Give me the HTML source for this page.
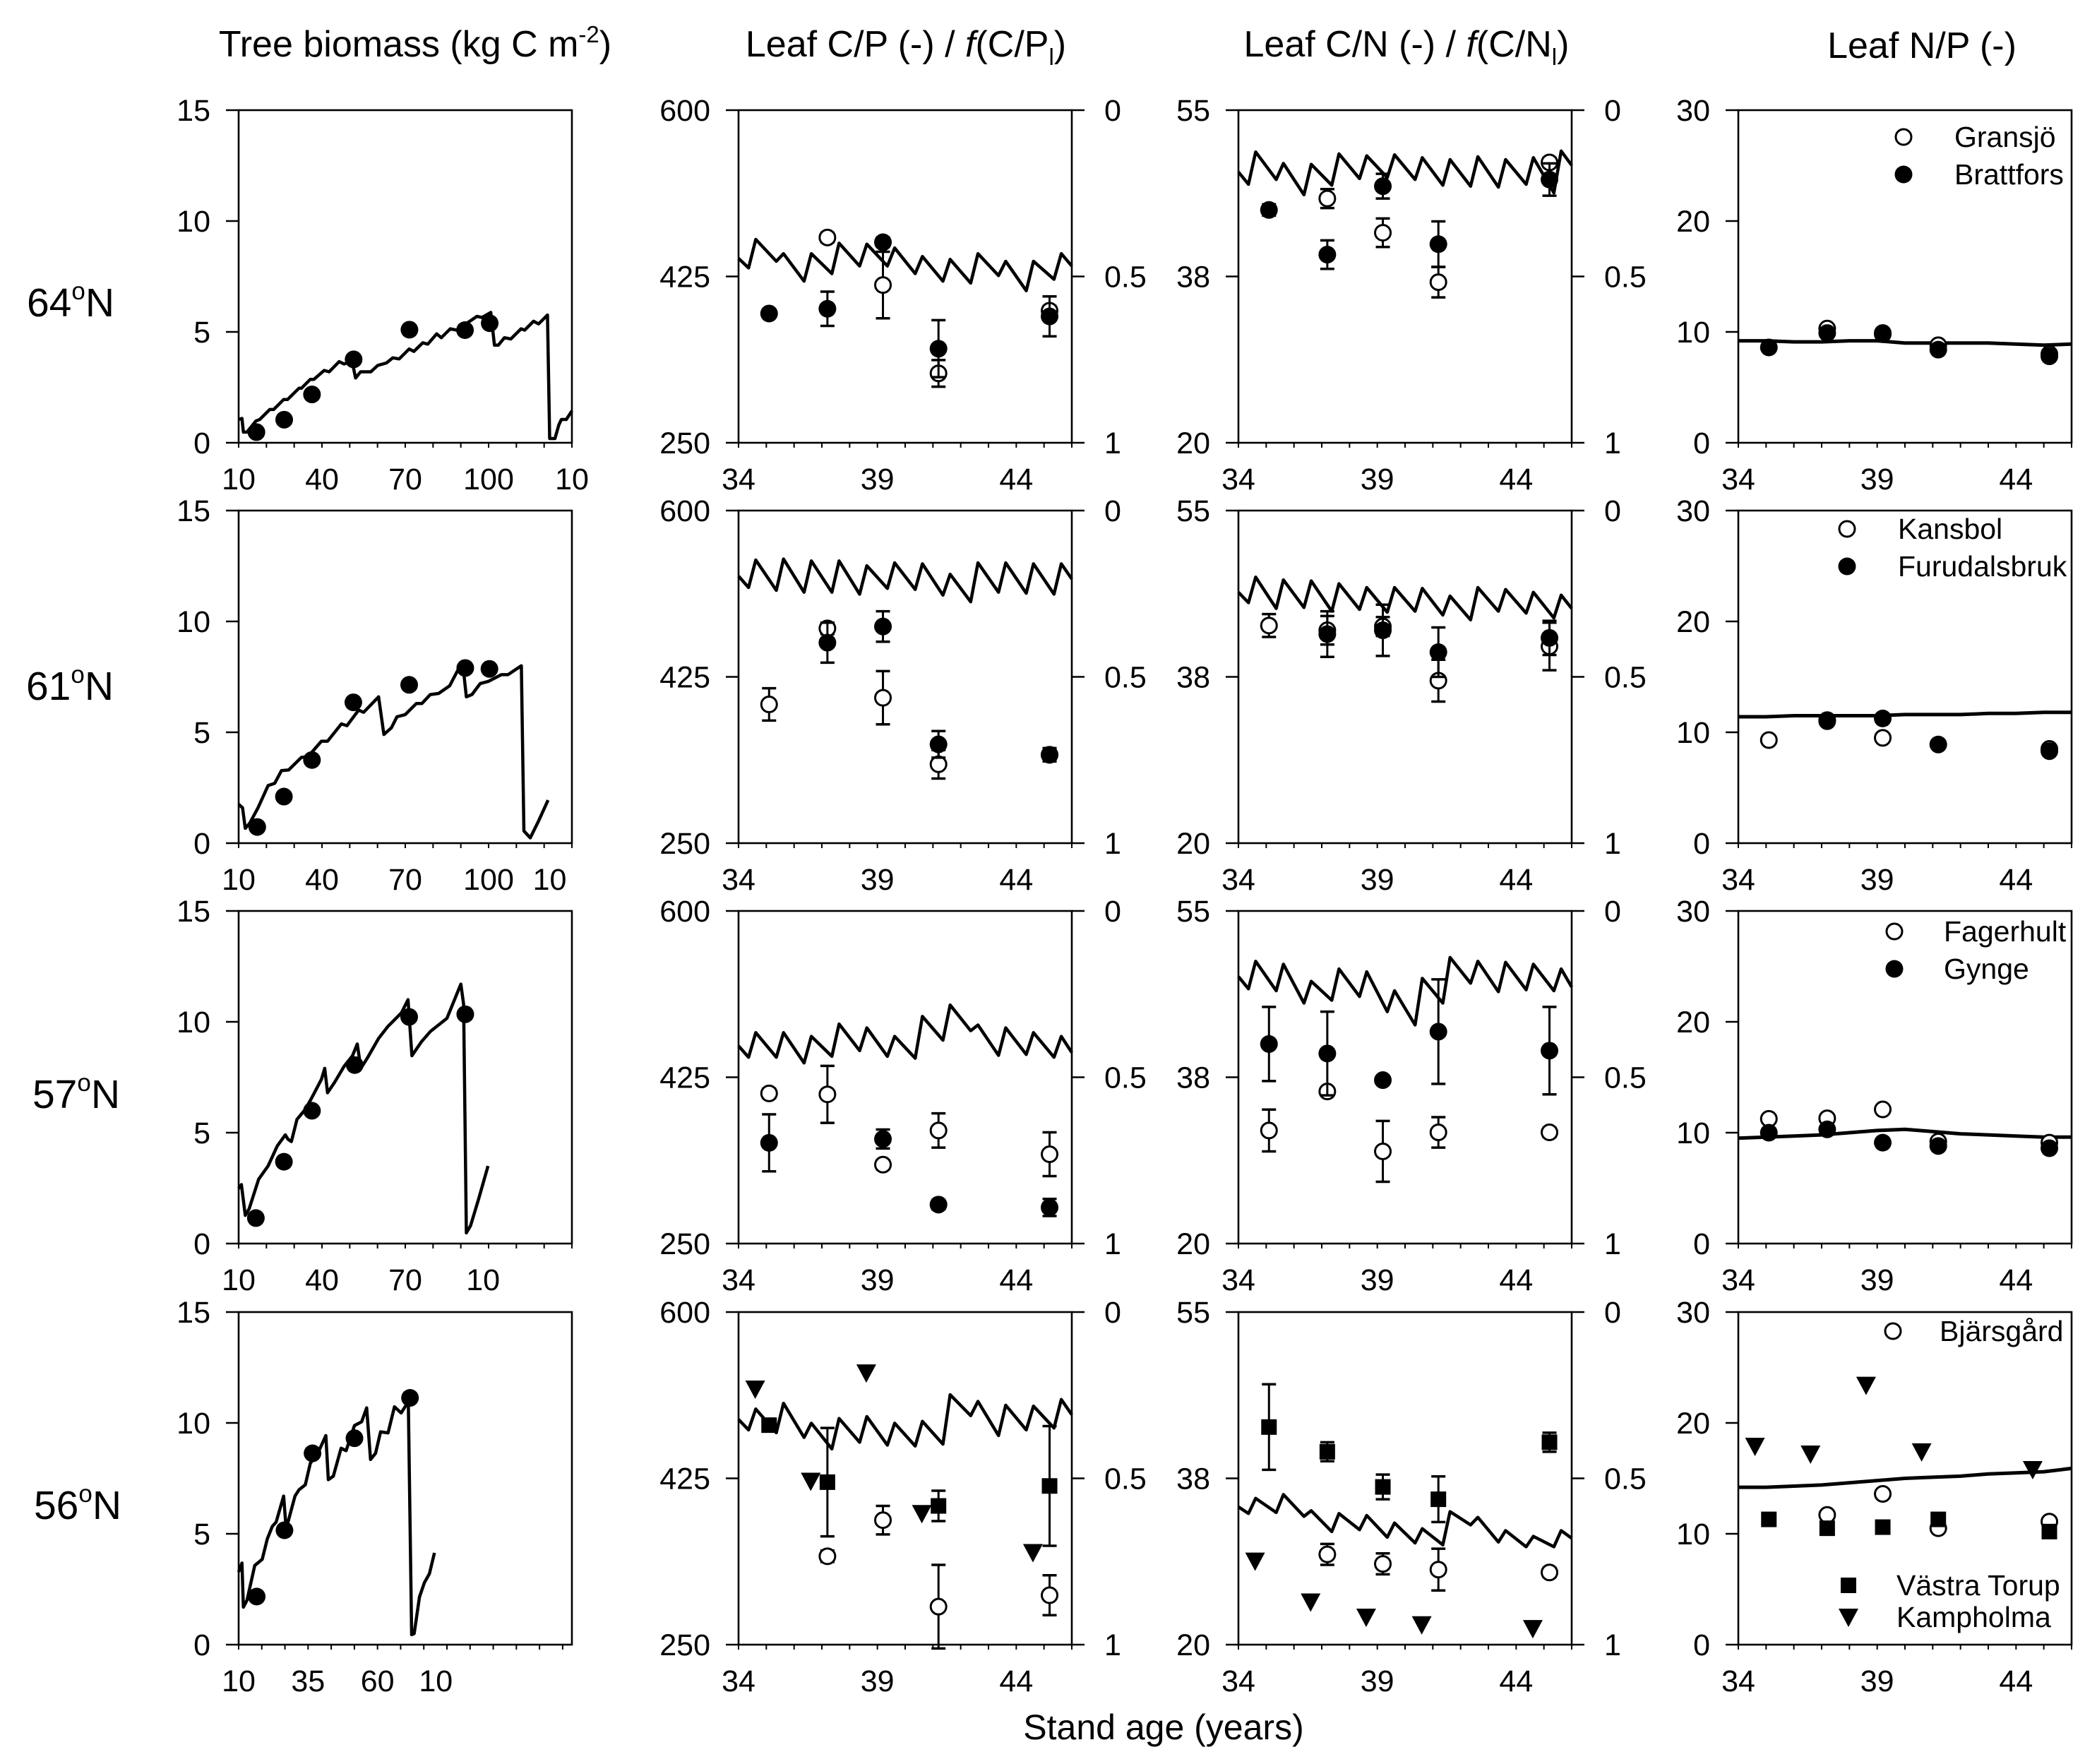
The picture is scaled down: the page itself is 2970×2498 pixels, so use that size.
<!DOCTYPE html>
<html><head><meta charset="utf-8">
<style>
html,body{margin:0;padding:0;background:#fff;}
svg{display:block;font-family:"Liberation Sans",Arial,sans-serif;}
</style></head>
<body>
<svg id="fig" xmlns="http://www.w3.org/2000/svg" width="2970" height="2498" viewBox="0 0 2970 2498">
<rect x="0" y="0" width="2970" height="2498" fill="#fff"/>
<g font-size="52" text-anchor="middle" fill="#000">
<text x="588" y="80">Tree biomass (kg C m<tspan font-size="33" dy="-20">-2</tspan><tspan dy="20">)</tspan></text>
<text x="1283" y="80">Leaf C/P (-) / <tspan font-style="italic">f</tspan>(C/P<tspan font-size="33" dy="12">l</tspan><tspan dy="-12">)</tspan></text>
<text x="1992" y="80">Leaf C/N (-) / <tspan font-style="italic">f</tspan>(C/N<tspan font-size="33" dy="12">l</tspan><tspan dy="-12">)</tspan></text>
<text x="2722" y="82">Leaf N/P (-)</text>
</g>
<g font-size="57" text-anchor="middle" fill="#000">
<text x="100" y="448">64<tspan font-size="35" dy="-24">o</tspan><tspan dy="24">N</tspan></text>
<text x="99" y="991">61<tspan font-size="35" dy="-24">o</tspan><tspan dy="24">N</tspan></text>
<text x="108" y="1569">57<tspan font-size="35" dy="-24">o</tspan><tspan dy="24">N</tspan></text>
<text x="110" y="2151">56<tspan font-size="35" dy="-24">o</tspan><tspan dy="24">N</tspan></text>
</g>
<text x="1648" y="2463" font-size="50" text-anchor="middle">Stand age (years)</text>
<g id="panels"></g>
</svg>
<script>
// ---------- shared categories ----------
const sampleYears = [35.1, 37.2, 39.2, 41.2, 45.2];
const kampYears = [34.6, 36.6, 38.6, 40.6, 44.6];
const modelYears = [34,35,36,37,38,39,40,41,42,43,44,45];
const npYears = [34,35,36,37,38,39,40,41,42,43,44,45,46];

// ---------- Tree biomass (model [age index, kg C m-2]) ----------
const bioR1Line = [[0,1.05],[1.2,1.1],[1.7,0.48],[3,0.48],[6.2,0.98],[7.6,1.05],[11.2,1.5],[12.6,1.5],[16.2,1.95],[17.6,1.95],[21.7,2.46],[22.6,2.46],[25.8,2.86],[27.1,2.86],[30.8,3.26],[32.6,3.2],[36.2,3.66],[38,3.55],[40.8,3.71],[42.1,2.92],[43.9,3.2],[47.6,3.2],[50.1,3.49],[53.2,3.6],[55.5,3.83],[57.8,3.78],[61.4,4.23],[63.1,4.12],[66.3,4.51],[68.1,4.45],[71.3,4.91],[73,4.74],[76.2,5.14],[78.5,5.08],[85.8,5.7],[87.6,5.65],[90.8,5.88],[92.1,4.4],[93.5,4.4],[95.7,4.74],[98,4.68],[101.7,5.14],[103,5.08],[106.2,5.48],[108,5.36],[111.2,5.76],[112,0.19],[113.9,0.19],[115.3,0.81],[116.2,1.05],[118,1.05],[120,1.44]];
const bioR1DotAge = [6.4,16.4,26.4,41.4,61.5,81.5,90.4];
const bioR1DotVal = [0.48,1.04,2.18,3.76,5.1,5.08,5.39];
const bioR2Line = [[0,1.75],[1.4,1.6],[2.4,0.67],[4,0.9],[7,1.6],[10.6,2.6],[13,2.7],[15.4,3.27],[18,3.3],[22.6,3.87],[25,3.9],[29.8,4.6],[32,4.6],[37,5.38],[39,5.3],[43.2,6.0],[45,5.9],[50.4,6.6],[52.3,4.9],[55,5.2],[57,5.7],[60,5.8],[64,6.3],[66,6.3],[69,6.7],[72,6.75],[76,7.1],[80.6,8.2],[82,6.6],[84,6.7],[87,7.2],[90,7.3],[94.6,7.6],[97,7.6],[101.8,8.0],[102.7,0.55],[105,0.24],[108,1.0],[111.4,1.94]];
const bioR2DotAge = [6.7,16.3,26.4,41.3,61.4,81.6,90.3];
const bioR2DotVal = [0.73,2.1,3.75,6.35,7.14,7.9,7.86];
const bioR3Line = [[0,2.48],[1,2.66],[2.4,1.27],[3.8,1.57],[7.2,2.9],[10.6,3.5],[13.9,4.4],[16.8,4.9],[17.8,4.7],[19,4.6],[21,5.6],[24,6.05],[26,6.5],[29.8,7.4],[31,7.9],[32,6.8],[34.5,7.26],[38,8.0],[41,8.47],[42.7,9.0],[44,7.9],[46.5,8.4],[50.4,9.25],[53.8,9.8],[58.6,10.4],[61,11.0],[62.4,8.47],[65.8,9.1],[69,9.56],[75,10.16],[80,11.7],[81,10.8],[82,0.48],[83.5,0.8],[86.4,2.0],[89.8,3.5]];
const bioR3DotAge = [6.2,16.3,26.4,41.8,61.4,81.6];
const bioR3DotVal = [1.15,3.69,5.99,8.05,10.22,10.34];
const bioR4Line = [[0,3.28],[1.2,3.68],[1.7,1.69],[3,2.0],[5.8,3.57],[8.5,3.85],[10.3,4.76],[12.1,5.33],[13.5,5.53],[16.2,6.7],[17.1,5.22],[20.3,6.7],[21.7,6.98],[24,7.21],[25.8,8.18],[28.5,8.63],[31.4,9.43],[32.3,7.44],[34.1,7.6],[36.9,8.86],[38.7,8.75],[41.7,9.88],[44.3,10.05],[46.1,10.68],[47.5,8.35],[49.3,8.63],[51.1,9.6],[53.8,9.55],[56.1,10.73],[58.5,10.45],[61.1,10.96],[61.3,9.2],[62.3,0.45],[63.2,0.5],[65.1,2.15],[66.9,2.8],[68.7,3.2],[70.5,4.14]];
const bioR4DotAge = [6.5,16.5,26.6,41.7,61.7];
const bioR4DotVal = [2.17,5.16,8.63,9.31,11.13];
const bioTickPosR1 = [0,10,20,30,40,50,60,70,80,90,100,110,120];
const bioTickPosR4 = [0,8.33,16.67,25,33.33,41.67,50,58.33,66.67,75,83.33,91.67,100,108.33,116.67];
const bioLabelPosR1 = [0,30,60,90,120];
const bioLabelTxtR1 = ['10','40','70','100','10'];
const bioLabelPosR2 = [0,30,60,90,112];
const bioLabelTxtR2 = ['10','40','70','100','10'];
const bioLabelPosR3 = [0,30,60,88];
const bioLabelTxtR3 = ['10','40','70','10'];
const bioLabelPosR4 = [0,25,50,71];
const bioLabelTxtR4 = ['10','35','60','10'];

// ---------- Leaf C/P ----------
const cpR1Start = 444, cpR1End = 436;
const cpR1Trough = [434,441,420,428,436,436,428,420,418,426,410,422];
const cpR1Peak = [464,449,449,460,459,455,446,443,449,441,441,449];
const cpR1Open = [null,466,416,323,389];
const cpR1OpenErr = [0,5,35,14,5];
const cpR1Filled = [386,391,461,349,383];
const cpR1FilledErr = [0,18,5,30,21];

const cpR2Start = 531, cpR2End = 528;
const cpR2Trough = [519,516,514,514,512,518,517,511,504,514,513,512];
const cpR2Peak = [548,549,547,547,542,545,544,533,545,545,544,544];
const cpR2Open = [396,476,403,333,343];
const cpR2OpenErr = [17,6,28,15,5];
const cpR2Filled = [null,461,478,354,343];
const cpR2FilledErr = [0,21,16,14,7];

const cpR3Start = 458, cpR3End = 451;
const cpR3Trough = [446,446,440,447,453,447,445,464,474,448,449,446];
const cpR3Peak = [472,472,468,481,477,468,489,501,480,477,472,468];
const cpR3Open = [408,407,333,369,344];
const cpR3OpenErr = [5,30,5,18,23];
const cpR3Filled = [356,null,360,291,288];
const cpR3FilledErr = [30,0,10,5,9];

const cpR4Start = 487, cpR4End = 492;
const cpR4Trough = [476,473,468,456,463,460,459,461,491,470,476,478];
const cpR4Peak = [498,504,483,488,490,483,485,513,506,502,501,508];
const cpR4Open = [null,343,381,290,302];
const cpR4OpenErr = [0,6,15,44,21];
const cpR4Square = [481,421,null,396,417];
const cpR4SquareErr = [5,57,0,16,63];
const cpR4Tri = [519,422,536,388,347];

// ---------- Leaf C/N ----------
const cnR1Start = 48.5, cnR1End = 49.2;
const cnR1Trough = [47.2,47.7,46.1,47.1,47.8,47.9,47.7,47.1,47.0,46.9,47.2,46.3];
const cnR1Peak = [50.6,49.4,49.3,50.4,50.2,50.3,50.0,49.8,50.1,49.8,50.0,50.7];
const cnR1Open = [null,45.7,42.1,36.9,49.5];
const cnR1OpenErr = [0,1,1.5,1.6,0.5];
const cnR1Filled = [44.5,39.8,47.0,40.9,47.7];
const cnR1FilledErr = [0.6,1.5,1.3,2.4,1.7];

const cnR2Start = 46.4, cnR2End = 44.7;
const cnR2Trough = [45.3,44.7,44.8,44.4,44.6,44.3,44.4,44.0,43.5,44.4,44.2,43.7];
const cnR2Peak = [48.0,47.7,47.6,47.3,46.9,46.9,46.8,46.0,46.9,46.7,46.4,46.1];
const cnR2Open = [42.9,42.4,42.8,37.1,40.7];
const cnR2OpenErr = [1.2,1.5,1,2.2,2.5];
const cnR2Filled = [null,42.0,42.4,40.1,41.6];
const cnR2FilledErr = [0,2.4,2.7,2.6,1.8];

const cnR3Start = 48.1, cnR3End = 47.0;
const cnR3Trough = [46.8,46.6,45.3,45.6,46.0,44.4,43.0,45.3,47.4,46.5,46.7,46.6];
const cnR3Peak = [49.7,49.4,47.6,48.9,48.6,46.6,47.9,50.1,49.7,49.6,49.4,48.9];
const cnR3Open = [31.9,36.0,29.7,31.7,31.7];
const cnR3OpenErr = [2.2,0.4,3.2,1.6,0.5];
const cnR3Filled = [41.0,40.0,37.2,42.3,40.3];
const cnR3FilledErr = [3.9,4.4,0.4,5.5,4.6];

const cnR4Start = 34.5, cnR4End = 31.2;
const cnR4Trough = [33.8,33.9,33.5,31.9,32.1,31.3,30.7,30.5,32.6,30.8,30.3,30.3];
const cnR4Peak = [35.4,35.8,34.1,33.8,33.6,32.8,32.2,34.0,33.4,32.0,31.4,32.0];
const cnR4Open = [null,29.5,28.5,27.9,27.6];
const cnR4OpenErr = [0,1.1,1.1,2.2,0.5];
const cnR4Square = [42.9,40.3,36.6,35.3,41.3];
const cnR4SquareErr = [4.5,1,1.3,2.4,1];
const cnR4Tri = [28.8,24.5,22.9,22.1,21.7];

// ---------- Leaf N/P ----------
const npR1Line = [9.2,9.2,9.1,9.1,9.2,9.2,9.0,9.0,9.0,9.0,8.9,8.8,8.9];
const npR1Open = [null,10.3,9.8,8.8,8.0];
const npR1Filled = [8.6,9.9,9.9,8.4,7.8];
const npR2Line = [11.4,11.4,11.5,11.5,11.5,11.5,11.6,11.6,11.6,11.7,11.7,11.8,11.8];
const npR2Open = [9.3,11.0,9.5,null,8.5];
const npR2Filled = [null,11.1,11.25,8.9,8.3];
const npR3Line = [9.5,9.6,9.7,9.8,10.0,10.2,10.3,10.1,9.9,9.8,9.7,9.6,9.6];
const npR3Open = [11.25,11.3,12.1,9.2,9.1];
const npR3Filled = [10.0,10.3,9.1,8.8,8.6];
const npR4Line = [14.2,14.2,14.3,14.4,14.6,14.8,15.0,15.1,15.2,15.4,15.5,15.6,15.9];
const npR4Open = [null,11.7,13.6,10.5,11.1];
const npR4Square = [11.3,10.5,10.6,11.3,10.2];
const npR4Tri = [17.9,17.2,23.4,17.4,15.8];

// ---------- legends ----------
const legendR1 = ['Gransjö','Brattfors'];
const legendR2 = ['Kansbol','Furudalsbruk'];
const legendR3 = ['Fagerhult','Gynge'];
const legendR4 = ['Bjärsgård','Västra Torup','Kampholma'];

// ================= drawing =================
const NS = 'http://www.w3.org/2000/svg';
const root = document.getElementById('panels');
const W = 472, H = 471;
const TF = 43;
const colX = [338,1046,1754,2462];
const rowY = [156,723,1290,1858];
function mk(tag, parent){ const e = document.createElementNS(NS, tag); parent.appendChild(e); return e; }
function at(e, o){ for (const k in o) e.setAttribute(k, o[k]); }
function txt(parent, x, y, s, anchor, size){
  const t = mk('text', parent);
  at(t, {x:x, y:y, 'text-anchor':anchor, 'font-size':size});
  t.textContent = s;
  return t;
}

function makePanel(r, c, name, xMin, xMax, yMin, yMax){
  const g = mk('g', root);
  
  
  const x0 = colX[c], y0 = rowY[r];
  const sx = v => x0 + (v - xMin) / (xMax - xMin) * W;
  const sy = v => y0 + H - (v - yMin) / (yMax - yMin) * H;
  return {g, x0, y0, sx, sy};
}
function frame(P){
  const b = mk('rect', P.g);
  
  
  at(b, {x:P.x0, y:P.y0, width:W, height:H, fill:'none', stroke:'#000', 'stroke-width':2.6});
}
function yAxisLeft(P, vals, labels){
  const g = mk('g', P.g);
  
  
  vals.forEach((v, i) => {
    const y = P.sy(v);
    const l = mk('line', g);
    
    
    at(l, {x1:P.x0 - 18, x2:P.x0, y1:y, y2:y, stroke:'#000', 'stroke-width':2.6});
    const t = txt(g, P.x0 - 40, y + 15, labels[i], 'end', TF);
    
    
  });
}
function yAxisRight(P){
  const g = mk('g', P.g);
  
  
  const fr = [0, 0.5, 1], lab = ['0', '0.5', '1'];
  fr.forEach((f, i) => {
    const y = P.y0 + f * H;
    const l = mk('line', g);
    
    
    at(l, {x1:P.x0 + W, x2:P.x0 + W + 18, y1:y, y2:y, stroke:'#000', 'stroke-width':2.6});
    const t = txt(g, P.x0 + W + 46, y + 15, lab[i], 'start', TF);
    
    
  });
}
function xAxis(P, tickPos, labelPos, labelTxt){
  const g = mk('g', P.g);
  
  
  const yb = P.y0 + H;
  tickPos.forEach(v => {
    const l = mk('line', g);
    
    
    at(l, {x1:P.sx(v), x2:P.sx(v), y1:yb, y2:yb + 7, stroke:'#000', 'stroke-width':2});
  });
  labelPos.forEach((v, i) => {
    const t = txt(g, P.sx(v), yb + 66, labelTxt[i], 'middle', TF);
    
    
  });
}
function polyline(P, pts, name, sw){
  const p = mk('polyline', P.g);
  
  
  at(p, {points: pts.map(q => P.sx(q[0]).toFixed(1) + ',' + P.sy(q[1]).toFixed(1)).join(' '),
    fill:'none', stroke:'#000', 'stroke-width':sw, 'stroke-linejoin':'round'});
}
function sawtooth(P, start, troughs, peaks, end, name){
  const pts = [[34, start]];
  modelYears.forEach((yr, k) => {
    pts.push([yr + 0.36, troughs[k]]);
    pts.push([yr + 0.62, peaks[k]]);
  });
  pts.push([46, end]);
  polyline(P, pts, name, 4.5);
}
function errBar(P, x, v, e){
  if (!e) return;
  const g = mk('g', P.g);
  
  
  const X = P.sx(x), t = P.sy(v + e), b = P.sy(v - e);
  const l = mk('line', g);
  at(l, {x1:X, x2:X, y1:t, y2:b, stroke:'#000', 'stroke-width':3});
  [t, b].forEach(y => {
    const c = mk('line', g);
    at(c, {x1:X - 10, x2:X + 10, y1:y, y2:y, stroke:'#000', 'stroke-width':3.5});
  });
}
function marker(parent, X, Y, kind){
  let m;
  if (kind === 'open') { m = mk('circle', parent); at(m, {cx:X, cy:Y, r:11, fill:'#fff', stroke:'#000', 'stroke-width':3}); }
  else if (kind === 'filled') { m = mk('circle', parent); at(m, {cx:X, cy:Y, r:12.5, fill:'#000'}); }
  else if (kind === 'square') { m = mk('rect', parent); at(m, {x:X - 11, y:Y - 11, width:22, height:22, fill:'#000'}); }
  else { m = mk('polygon', parent); at(m, {points:(X-14)+','+(Y-12)+' '+(X+14)+','+(Y-12)+' '+X+','+(Y+14), fill:'#000'}); }
  return m;
}
function points(P, xs, vals, errs, kind, name){
  xs.forEach((x, i) => {
    if (vals[i] === null) return;
    if (errs) errBar(P, x, vals[i], errs[i]);
    const m = marker(P.g, P.sx(x), P.sy(vals[i]), kind);
    
    
  });
}
function legend(P, entries){
  entries.forEach(en => {
    const g = mk('g', P.g);
    
    
    marker(g, P.x0 + en[0], P.y0 + en[1], en[2]);
    txt(g, P.x0 + en[3], P.y0 + en[1] + 14, en[4], 'start', 41);
  });
}

const yearTicks = [34,35,36,37,38,39,40,41,42,43,44,45,46];
const yearLabPos = [34,39,44];
const yearLabTxt = ['34','39','44'];

const bio = [
  [bioR1Line, bioR1DotAge, bioR1DotVal, bioTickPosR1, bioLabelPosR1, bioLabelTxtR1],
  [bioR2Line, bioR2DotAge, bioR2DotVal, bioTickPosR1, bioLabelPosR2, bioLabelTxtR2],
  [bioR3Line, bioR3DotAge, bioR3DotVal, bioTickPosR1, bioLabelPosR3, bioLabelTxtR3],
  [bioR4Line, bioR4DotAge, bioR4DotVal, bioTickPosR4, bioLabelPosR4, bioLabelTxtR4]
];
bio.forEach((d, r) => {
  const P = makePanel(r, 0, 'biomass-panel-row' + (r + 1), 0, 120, 0, 15);
  frame(P);
  yAxisLeft(P, [0,5,10,15], ['0','5','10','15']);
  xAxis(P, d[3], d[4], d[5]);
  polyline(P, d[0], 'biomass-model-line', 4.5);
  points(P, d[1], d[2], null, 'filled', 'biomass-observed');
});

const cp = [
  [cpR1Start, cpR1Trough, cpR1Peak, cpR1End, [[cpR1Open,cpR1OpenErr,'open'],[cpR1Filled,cpR1FilledErr,'filled']]],
  [cpR2Start, cpR2Trough, cpR2Peak, cpR2End, [[cpR2Open,cpR2OpenErr,'open'],[cpR2Filled,cpR2FilledErr,'filled']]],
  [cpR3Start, cpR3Trough, cpR3Peak, cpR3End, [[cpR3Open,cpR3OpenErr,'open'],[cpR3Filled,cpR3FilledErr,'filled']]],
  [cpR4Start, cpR4Trough, cpR4Peak, cpR4End, [[cpR4Open,cpR4OpenErr,'open'],[cpR4Square,cpR4SquareErr,'square']]]
];
cp.forEach((d, r) => {
  const P = makePanel(r, 1, 'cp-panel-row' + (r + 1), 34, 46, 250, 600);
  frame(P);
  yAxisLeft(P, [250,425,600], ['250','425','600']);
  yAxisRight(P);
  xAxis(P, yearTicks, yearLabPos, yearLabTxt);
  sawtooth(P, d[0], d[1], d[2], d[3], 'cp-model-line');
  d[4].forEach(s => points(P, sampleYears, s[0], s[1], s[2], 'cp-observed-' + s[2]));
  if (r === 3) points(P, kampYears, cpR4Tri, null, 'tri', 'cp-observed-triangle');
});

const cn = [
  [cnR1Start, cnR1Trough, cnR1Peak, cnR1End, [[cnR1Open,cnR1OpenErr,'open'],[cnR1Filled,cnR1FilledErr,'filled']]],
  [cnR2Start, cnR2Trough, cnR2Peak, cnR2End, [[cnR2Open,cnR2OpenErr,'open'],[cnR2Filled,cnR2FilledErr,'filled']]],
  [cnR3Start, cnR3Trough, cnR3Peak, cnR3End, [[cnR3Open,cnR3OpenErr,'open'],[cnR3Filled,cnR3FilledErr,'filled']]],
  [cnR4Start, cnR4Trough, cnR4Peak, cnR4End, [[cnR4Open,cnR4OpenErr,'open'],[cnR4Square,cnR4SquareErr,'square']]]
];
cn.forEach((d, r) => {
  const P = makePanel(r, 2, 'cn-panel-row' + (r + 1), 34, 46, 20, 55);
  frame(P);
  yAxisLeft(P, [20,37.5,55], ['20','38','55']);
  yAxisRight(P);
  xAxis(P, yearTicks, yearLabPos, yearLabTxt);
  sawtooth(P, d[0], d[1], d[2], d[3], 'cn-model-line');
  d[4].forEach(s => points(P, sampleYears, s[0], s[1], s[2], 'cn-observed-' + s[2]));
  if (r === 3) points(P, kampYears, cnR4Tri, null, 'tri', 'cn-observed-triangle');
});

const np = [
  [npR1Line, [[npR1Open,'open'],[npR1Filled,'filled']], [[234,38,'open',306,legendR1[0]],[234,91,'filled',306,legendR1[1]]]],
  [npR2Line, [[npR2Open,'open'],[npR2Filled,'filled']], [[154,26,'open',226,legendR2[0]],[154,79,'filled',226,legendR2[1]]]],
  [npR3Line, [[npR3Open,'open'],[npR3Filled,'filled']], [[221,29,'open',291,legendR3[0]],[221,82,'filled',291,legendR3[1]]]],
  [npR4Line, [[npR4Open,'open'],[npR4Square,'square']], [[219,27,'open',285,legendR4[0]],[156,387,'square',224,legendR4[1]],[156,432,'tri',224,legendR4[2]]]]
];
np.forEach((d, r) => {
  const P = makePanel(r, 3, 'np-panel-row' + (r + 1), 34, 46, 0, 30);
  frame(P);
  yAxisLeft(P, [0,10,20,30], ['0','10','20','30']);
  xAxis(P, yearTicks, yearLabPos, yearLabTxt);
  polyline(P, npYears.map((y, i) => [y, d[0][i]]), 'np-model-line', 5);
  d[1].forEach(s => points(P, sampleYears, s[0], null, s[1], 'np-observed-' + s[1]));
  if (r === 3) points(P, kampYears, npR4Tri, null, 'tri', 'np-observed-triangle');
  legend(P, d[2]);
});
</script>
</body></html>
